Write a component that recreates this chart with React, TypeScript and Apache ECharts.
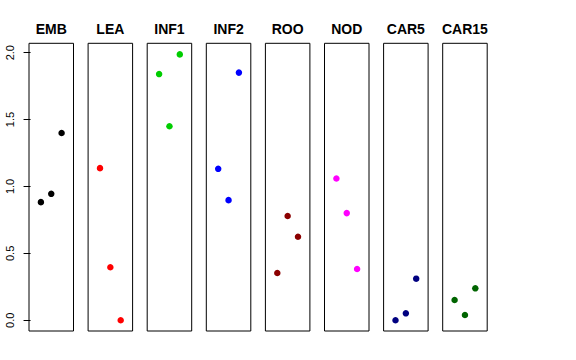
import React, { useEffect, useRef } from "react";
import * as echarts from "echarts";

const panels = ["EMB", "LEA", "INF1", "INF2", "ROO", "NOD", "CAR5", "CAR15"];
const colors = ["#000000", "#FF0000", "#00CD00", "#0000FF", "#8B0000", "#FF00FF", "#000080", "#006400"];
const xPositions = [1, 2, 3];
const EMB = [0.883, 0.945, 1.40];
const LEA = [1.137, 0.396, 0.0];
const INF1 = [1.84, 1.45, 1.987];
const INF2 = [1.132, 0.898, 1.851];
const ROO = [0.353, 0.779, 0.624];
const NOD = [1.06, 0.801, 0.383];
const CAR5 = [0.0, 0.052, 0.311];
const CAR15 = [0.152, 0.040, 0.239];
const values = [EMB, LEA, INF1, INF2, ROO, NOD, CAR5, CAR15];
const yTicks = [0, 0.5, 1, 1.5, 2];
const yTickLabels = ["0.0", "0.5", "1.0", "1.5", "2.0"];

export default function App() {
  const ref = useRef<HTMLDivElement>(null);
  useEffect(() => {
    if (!ref.current) return;
    const chart = echarts.init(ref.current, null, { renderer: "svg" });
    const left0 = 29;
    const step = 59.1;
    const width = 44.5;
    const top = 43.3;
    const height = 287.7;
    const grids = panels.map((_, i) => ({
      left: left0 + step * i,
      top,
      width,
      height,
      show: true,
      borderColor: "#000",
      borderWidth: 1,
      backgroundColor: "transparent",
    }));
    const xAxes = panels.map((_, i) => ({
      type: "value",
      gridIndex: i,
      min: -0.15,
      max: 4.15,
      show: false,
    }));
    const yAxes = panels.map((_, i) => ({
      type: "value",
      gridIndex: i,
      min: -0.08,
      max: 2.07,
      show: i === 0,
      axisLine: { show: false },
      splitLine: { show: false },
      axisTick: {
        show: true,
        length: 7,
        lineStyle: { color: "#000" },
        customValues: yTicks,
      },
      axisLabel: {
        show: true,
        rotate: 90,
        margin: 14,
        fontSize: 11,
        color: "#000",
        fontFamily: "Liberation Sans, Arial, sans-serif",
        customValues: yTicks,
        formatter: (v: number) => yTickLabels[yTicks.indexOf(v)] ?? "",
      },
    }));
    const series = panels.map((name, i) => ({
      type: "scatter",
      name,
      xAxisIndex: i,
      yAxisIndex: i,
      symbolSize: 6.5,
      itemStyle: { color: colors[i], opacity: 1 },
      data: values[i].map((v, j) => [xPositions[j], v]),
    }));
    const titles = panels.map((name, i) => ({
      type: "text",
      x: left0 + step * i + width / 2,
      y: 29,
      style: {
        text: name,
        textAlign: "center",
        textVerticalAlign: "middle",
        fontSize: 14,
        fontWeight: "bold",
        fontFamily: "Liberation Sans, Arial, sans-serif",
        fill: "#000",
      },
    }));
    chart.setOption({
      animation: false,
      backgroundColor: "#fff",
      grid: grids,
      xAxis: xAxes,
      yAxis: yAxes,
      series,
      graphic: titles,
    } as any);
    return () => chart.dispose();
  }, []);
  return <div ref={ref} style={{ width: 576, height: 360, position: "absolute", left: 0, top: 0 }} />;
}
